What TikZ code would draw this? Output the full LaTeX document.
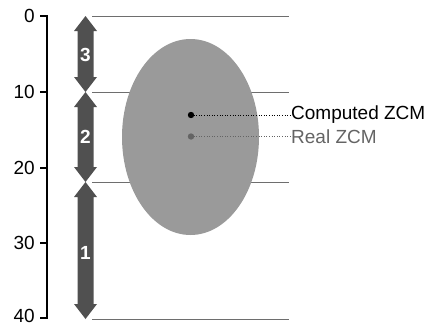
\documentclass[tikz,border=0pt]{standalone}
\usepackage{fontspec}
\setmainfont{Liberation Sans}
\definecolor{arrowgray}{RGB}{80,80,80}
\definecolor{ellgray}{RGB}{154,154,154}
\definecolor{linegray}{RGB}{110,110,110}
\definecolor{realgray}{RGB}{100,100,100}
\tikzset{
  ticklabel/.style={anchor=east,font=\fontsize{19}{22}\selectfont,inner sep=0pt},
  levelline/.style={draw=linegray,line width=0.8pt},
  arrownum/.style={text=white,font=\bfseries\fontsize{19}{22}\selectfont,inner sep=0pt},
  zcmlabel/.style={anchor=west,font=\fontsize{19}{22}\selectfont,inner sep=0pt},
  dotline/.style={dash pattern=on 1pt off 1.6pt,line width=1pt},
}
% double arrow: #1 = top y, #2 = bottom y
\newcommand{\dblarrow}[2]{%
  \fill[arrowgray] (85.5,#1) -- (97,#1+15) -- (93.5,#1+15) -- (93.5,#2-15) -- (97,#2-15)
    -- (85.5,#2) -- (74,#2-15) -- (77.5,#2-15) -- (77.5,#1+15) -- (74,#1+15) -- cycle;}
\begin{document}
\begin{tikzpicture}[x=1pt,y=-1pt]
\useasboundingbox (0,0) rectangle (427,327);
% axis
\draw[line width=1.6pt] (47,16) -- (47,319);
\foreach \v/\yy/\ly in {0/16/16,10/92/92,20/168/168,30/243/243,40/318/315.5}{
  \draw[line width=1.6pt] (40,\yy) -- (47.8,\yy);
  \node[ticklabel] (t\v) at (35,\ly) {\v};
}
% level lines
\foreach \yy/\nm in {16/a,92/b,182/c,319/d}{
  \coordinate (l\nm1) at (92,\yy);
  \coordinate (l\nm2) at (289,\yy);
  \draw[levelline] (l\nm1) -- (l\nm2);
}
% ellipse
\fill[ellgray] (190.5,137) ellipse [x radius=68.5, y radius=98];
% arrows
\dblarrow{16}{92}
\dblarrow{92}{182}
\dblarrow{182}{319}
\node[arrownum] (n3) at (85.5,55) {3};
\node[arrownum] (n2) at (85.5,137) {2};
\node[arrownum] (n1) at (85.5,253) {1};
% ZCM
\coordinate (cz) at (191,115);
\coordinate (rz) at (191,136.5);
\node[zcmlabel] (cl) at (291,115) {Computed ZCM};
\node[zcmlabel,text=realgray] (rl) at (291,136.5) {Real ZCM};
\draw[dotline,black] (cz) -- (cl.west);
\draw[dotline,realgray] (rz) -- (rl.west);
\fill[black] (cz) circle (3.2);
\fill[realgray] (rz) circle (3.2);
\end{tikzpicture}
\end{document}
